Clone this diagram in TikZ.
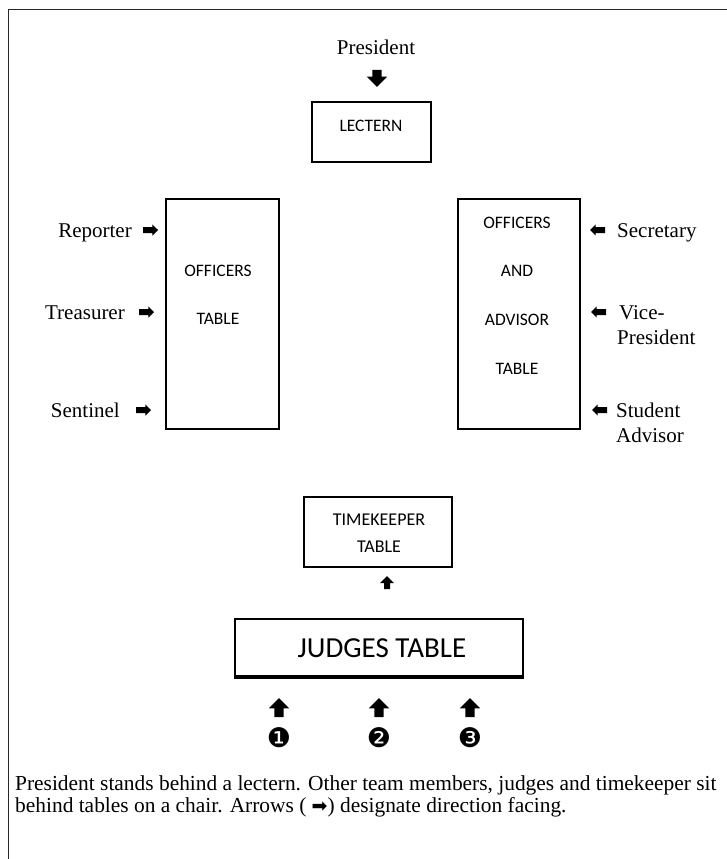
\documentclass[tikz,border=0pt]{standalone}
\usepackage{fontspec}
\setmainfont{Liberation Serif}
\newfontfamily\tablefont{Carlito}
\newfontfamily\dingfont{DejaVu Sans}
\usetikzlibrary{shapes.arrows, positioning}

\tikzset{
  tablebox/.style={draw, line width=1.3pt, inner sep=0pt},
  tabletext/.style={font=\tablefont\fontsize{17.5}{20}\selectfont, inner sep=0pt, anchor=base},
  person/.style={font=\fontsize{21}{25}\selectfont, inner sep=0pt},
  facing/.style={single arrow, fill=black, draw=none, inner sep=0pt,
    text height=2.8pt, text depth=2.8pt,
    minimum height=15pt, minimum width=11pt, single arrow head extend=2.7pt},
  bigfacing/.style={facing, text height=4.5pt, text depth=4.5pt,
    minimum height=19pt, minimum width=20pt, single arrow head extend=5.5pt},
}

\begin{document}
\begin{tikzpicture}[x=1pt, y=-1pt]
  \useasboundingbox (0,0) rectangle (727,859);
  \draw[line width=1.6pt, black!85] (8.5,859) |- (727,9.5);

  % lectern
  \node[person, anchor=base] (president) at (376,55) {President};
  \node[bigfacing, minimum height=17pt, minimum width=19pt, rotate=270] (presarrow) at (377,76) {};
  \node[tablebox, minimum width=119pt, minimum height=60pt] (lectern) at (371.5,132) {};
  \node[tabletext] at (371,131) {LECTERN};

  % officers table
  \node[tablebox, minimum width=113pt, minimum height=230pt] (offtable) at (222.5,314) {};
  \node[tabletext] at (218,276) {OFFICERS};
  \node[tabletext] at (218,324) {TABLE};

  \node[person, anchor=base east] (reporter) at (132,237) {Reporter};
  \node[facing] (reparrow) at (149,230) {};
  \node[person, anchor=base east] (treasurer) at (125,319) {Treasurer};
  \node[facing] (treasarrow) at (145,312) {};
  \node[person, anchor=base east] (sentinel) at (120,417) {Sentinel};
  \node[facing] (sentarrow) at (142,410) {};

  % officers and advisor table
  \node[tablebox, minimum width=122pt, minimum height=230pt] (advtable) at (519,314) {};
  \node[tabletext] at (517,228) {OFFICERS};
  \node[tabletext] at (517,276) {AND};
  \node[tabletext] at (517,325) {ADVISOR};
  \node[tabletext] at (517,374) {TABLE};

  \node[person, anchor=base west] (secretary) at (617,237) {Secretary};
  \node[facing, rotate=180] (secarrow) at (599,230) {};
  \node[person, anchor=base west] (vice) at (619,319) {Vice-};
  \node[person, anchor=base west] (vicepres) at (617,344) {President};
  \node[facing, rotate=180] (vicearrow) at (600,312) {};
  \node[person, anchor=base west] (student) at (616,417) {Student};
  \node[person, anchor=base west] (advisor) at (616,442) {Advisor};
  \node[facing, rotate=180] (studarrow) at (601,410) {};

  % timekeeper
  \node[tablebox, minimum width=148pt, minimum height=70pt] (timetable) at (378,532) {};
  \node[tabletext, font=\tablefont\fontsize{18}{20}\selectfont] at (379,525) {TIMEKEEPER};
  \node[tabletext, font=\tablefont\fontsize{18}{20}\selectfont] at (379,552) {TABLE};
  \node[facing, rotate=90, minimum height=13pt, minimum width=14pt,
    single arrow head extend=4pt] (timearrow) at (387,584) {};

  % judges
  \node[tablebox, minimum width=288pt, minimum height=57pt] (judgetable) at (379,647.5) {};
  \draw[line width=2pt] ([yshift=-1.5pt]judgetable.south west) -- ([yshift=-1.5pt]judgetable.south east);
  \node[tabletext, font=\tablefont\fontsize{29}{33}\selectfont] at (382,657) {JUDGES TABLE};

  \foreach \x/\n [count=\i] in {279/❶, 379/❷, 470/❸} {
    \node[bigfacing, rotate=90] (judge\i) at (\x,710) {};
    \node[font=\dingfont\fontsize{27}{28}\selectfont, inner sep=0pt] (seat\i) at (\x,738) {\n};
  }

  % note
  \node[anchor=base west, align=left, inner sep=0pt, font=\fontsize{21.4}{22}\selectfont] (note) at (15,812)
    {President stands behind a lectern. Other team members, judges and timekeeper sit\\
     behind tables on a chair. Arrows ( {\dingfont\fontsize{19}{19}\selectfont ➡}) designate direction facing.};
\end{tikzpicture}
\end{document}
